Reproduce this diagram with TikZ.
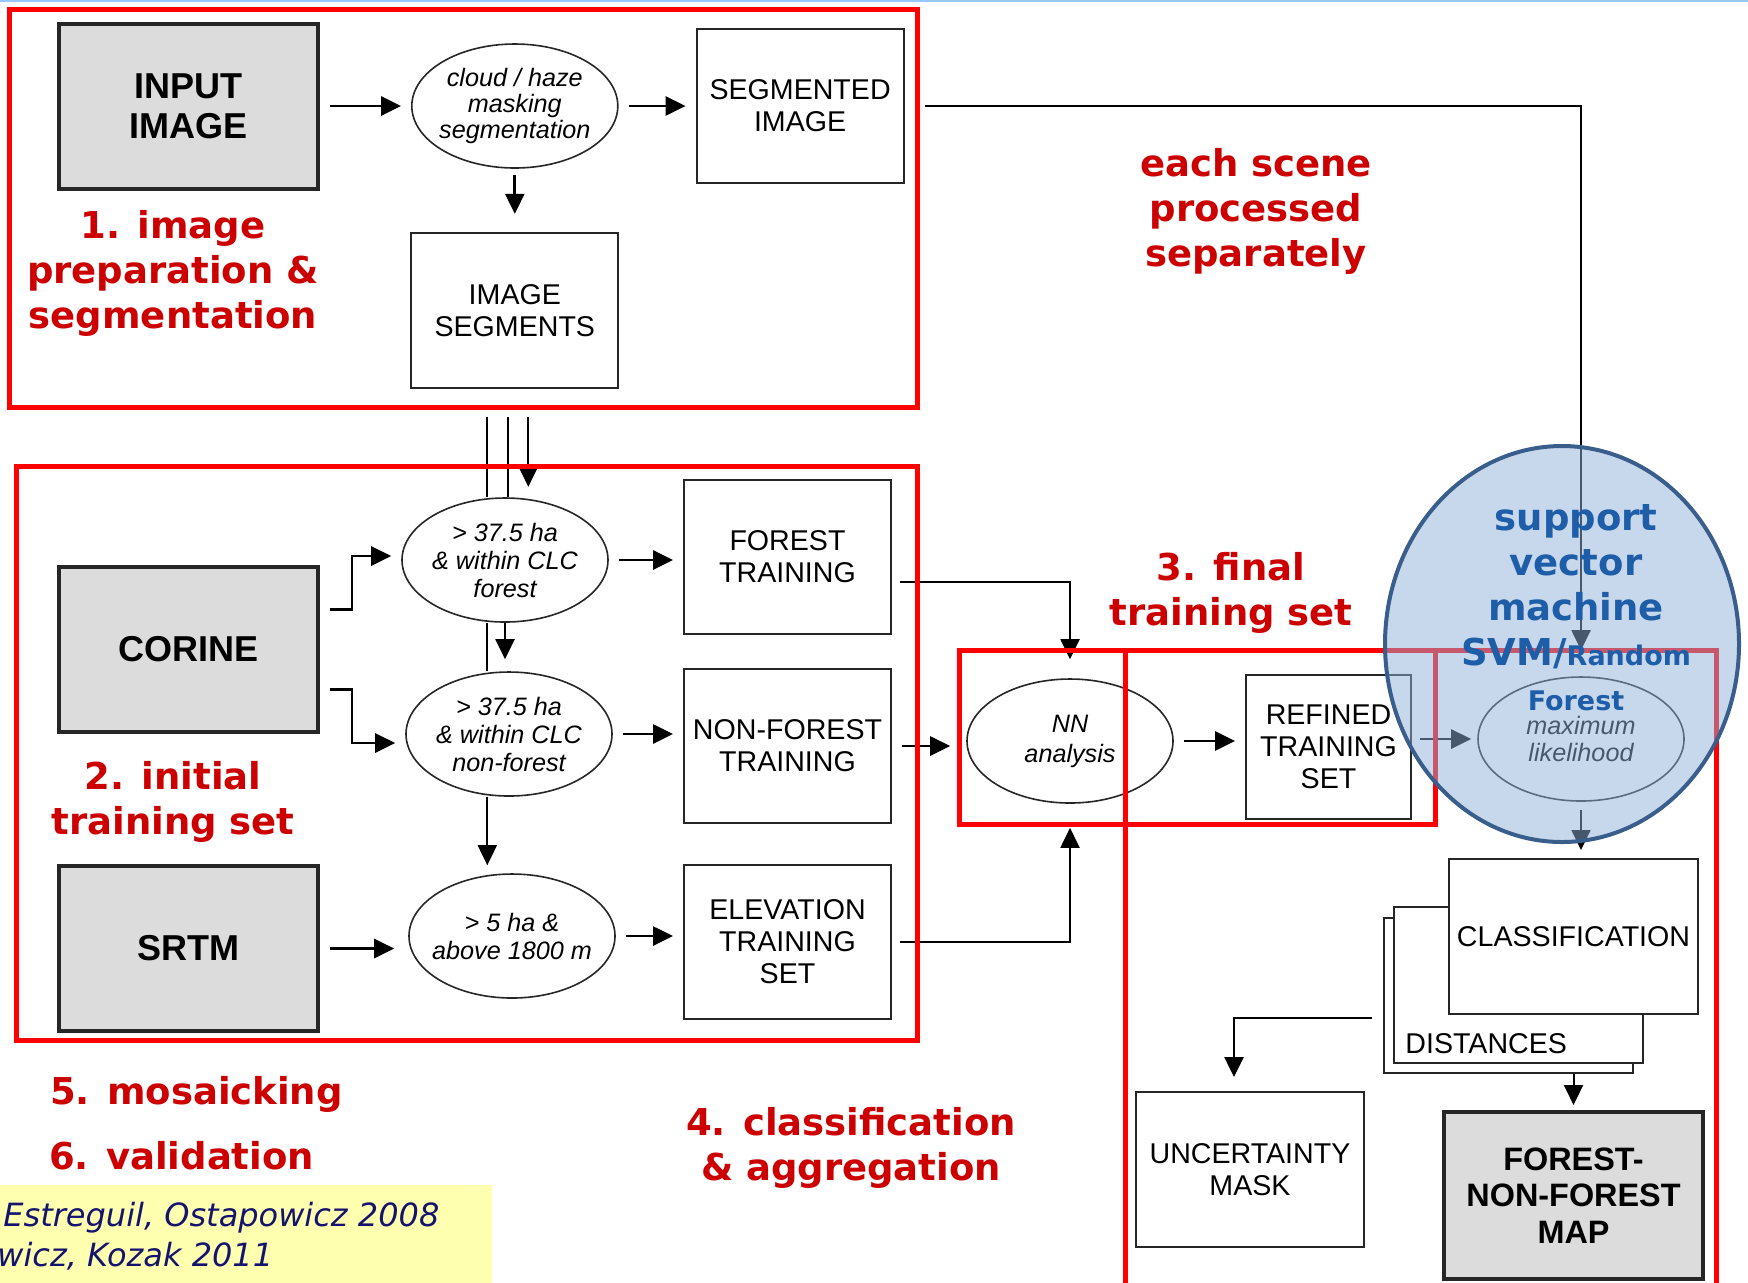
\documentclass[tikz,border=0pt]{standalone}
\usepackage{fontspec}
\setmainfont{Liberation Sans}
\newfontfamily\stagefont{DejaVu Sans}
\usetikzlibrary{arrows.meta,positioning,shapes.geometric,calc}

\definecolor{stagered}{RGB}{204,0,0}
\definecolor{framered}{RGB}{255,0,0}
\definecolor{boxgray}{RGB}{220,220,220}
\definecolor{svmfill}{RGB}{145,177,217}
\definecolor{svmline}{RGB}{58,94,140}
\definecolor{svmtext}{RGB}{30,94,168}
\definecolor{citeyellow}{RGB}{255,255,176}
\definecolor{citeblue}{RGB}{20,20,110}
\definecolor{topline}{RGB}{150,200,255}

\begin{document}
\begin{tikzpicture}[
  x=0.5pt,y=-0.5pt,
  font=\fontsize{14.3}{16}\selectfont,
  box/.style={draw=black!85,line width=1pt,align=center,minimum width=103.5pt,
              minimum height=77pt,inner sep=0pt},
  bigbox/.style={box,fill=boxgray,line width=2pt,minimum width=129.5pt,
              minimum height=82.5pt,font=\fontsize{18}{20}\selectfont\bfseries},
  oval/.style={draw=black!85,ellipse,line width=0.8pt,minimum width=103pt,
              minimum height=62pt,inner sep=-30pt,align=center,
              font=\fontsize{12.6}{14}\selectfont\itshape},
  redframe/.style={draw=framered,line width=2.5pt},
  stage/.style={align=center,text=stagered,
              font=\stagefont\bfseries\fontsize{18.5}{22.5}\selectfont},
  cite/.style={inner sep=0pt,text=citeblue,
              font=\stagefont\itshape\fontsize{16}{19}\selectfont},
  arrow/.style={-{Triangle[length=10pt,width=9.5pt]},line width=1.4pt,
              shorten <=5pt,shorten >=5pt},
  conn/.style={line width=1pt},
  longarrow/.style={-{Triangle[length=10pt,width=9.5pt]},conn}
]
\useasboundingbox (0,0) rectangle (1748,1282);
\fill[citeyellow] (0,1185) rectangle (492,1290);
\draw[topline,line width=1pt] (0,1) -- (1748,1);

% 1. image preparation
\node[bigbox] (input) at (188.5,106) {INPUT\\IMAGE};
\node[oval,right=45.5pt of input,font=\fontsize{12.6}{12.8}\selectfont\itshape] (mask)
  {cloud / haze\\masking\\segmentation};
\node[box,right=38.5pt of mask] (segimg) {SEGMENTED\\IMAGE};
\node[box,below=31.5pt of mask,minimum height=77.5pt] (imgseg) {IMAGE\\SEGMENTS};
\draw[arrow] (input) -- (mask);
\draw[arrow] (mask) -- (segimg);
\draw[arrow,shorten <=3pt,shorten >=9pt] (mask) -- (imgseg);

% 2. initial training set
\node[bigbox] (corine) at (188.5,649.5) {CORINE};
\node[bigbox,below=65pt of corine] (srtm) {SRTM};
\node[oval] (clcfor) at (505,560) {> 37.5 ha\\\& within CLC\\forest};
\node[oval] (clcnon) at (509,734) {> 37.5 ha\\\& within CLC\\non-forest};
\node[oval] (elev) at (512,936) {> 5 ha \&\\above 1800 m};
\node[box] (fortrain) at (787.5,557) {FOREST\\TRAINING};
\node[box,below=16.5pt of fortrain] (nontrain) {NON-FOREST\\TRAINING};
\node[box,below=20pt of nontrain] (elevtrain) {ELEVATION\\TRAINING\\SET};

\coordinate (tapA) at ([xshift=-13.75pt,yshift=-14pt]imgseg.south);
\coordinate (tapB) at ([xshift=-3.25pt,yshift=-14pt]imgseg.south);
\coordinate (tapC) at ([xshift=6.75pt,yshift=-14pt]imgseg.south);
\draw[conn] (tapA) -- (tapA |- clcfor.north);
\draw[conn] (tapB) -- (tapB |- clcfor.north);
\draw[longarrow] (tapC) -- ++(0,70);
\draw[conn] (tapA |- clcfor.south) -- (tapA |- clcnon.north);
\draw[longarrow,shorten >=4pt] (tapA |- clcnon.south) -- (tapA |- elev.north);
\draw[longarrow,shorten >=6pt] (clcfor.south) -- (clcfor.south |- clcnon.north);

\draw[arrow,shorten <=0pt] ([xshift=5pt,yshift=20pt]corine.east) -- ++(11pt,0)
  |- ([yshift=2pt]clcfor.west);
\draw[arrow,shorten <=0pt] ([xshift=5pt,yshift=-20pt]corine.east) -- ++(11pt,0)
  |- ([yshift=-4.5pt]clcnon.west);
\draw[arrow,shorten >=7pt] (srtm.east) -- (srtm.east -| elev.west);
\draw[arrow] (clcfor.east) -- (clcfor.east -| fortrain.west);
\draw[arrow] (clcnon.east) -- (clcnon.east -| nontrain.west);
\draw[arrow] (elev.east) -- (elev.east -| elevtrain.west);

% 3. final training set
\node[oval,font=\fontsize{12.6}{15}\selectfont\itshape] (nn) at (1070,741) {NN\\analysis};
\node[box,minimum width=82.5pt,minimum height=72pt] (refined) at (1328.5,747)
  {REFINED\\TRAINING\\SET};
\node[oval,font=\fontsize{12.6}{13.5}\selectfont\itshape] (ml) at (1581,739)
  {maximum\\likelihood};
\draw[arrow,shorten >=8pt] (nontrain.east) -- (nontrain.east -| nn.west);
\draw[arrow] (nn.east) -- (nn.east -| refined.west);
\draw[arrow,shorten <=4pt,shorten >=3pt] (refined.east |- ml.west) -- (ml.west);
\draw[longarrow,shorten >=9.5pt] ([xshift=4pt,yshift=-12.5pt]fortrain.east) -| (nn.north);
\draw[longarrow,shorten >=12pt] ([xshift=4pt]elevtrain.east) -| (nn.south);
\draw[longarrow,shorten >=13pt] ([xshift=10pt]segimg.east) -| (ml.north);

% 4. classification
\node[box,minimum width=124.5pt,minimum height=77.5pt] (stackback) at (1508.5,995.5) {};
\node[box,minimum width=124.5pt,minimum height=78pt,fill=white] (dist) at (1518.5,985) {};
\node[anchor=base west,inner sep=0pt] (distlbl) at ([xshift=6pt,yshift=5.5pt]dist.south west)
  {DISTANCES};
\node[box,minimum width=124.5pt,minimum height=77.5pt,fill=white] (classif)
  at (1573.5,936.5) {CLASSIFICATION};
\node[box,minimum width=114pt,minimum height=77.5pt] (uncert) at (1250,1169.5)
  {UNCERTAINTY\\MASK};
\node[bigbox,minimum height=83.5pt,font=\fontsize{16.2}{18.25}\selectfont\bfseries]
  (fnfmap) at (1573.5,1195.5) {FOREST-\\NON-FOREST\\MAP};
\draw[longarrow,shorten <=4pt,shorten >=4pt] (ml.south) -- (ml.south |- classif.north);
\draw[longarrow,shorten >=2.5pt] (stackback.south -| fnfmap.north) -- (fnfmap.north);
\draw[longarrow,line width=1.3pt,shorten >=7pt] ([xshift=-5.5pt,yshift=-11.25pt]stackback.west)
  -| ([xshift=-8pt]uncert.north);

% red frames
\draw[redframe] (9,9) rectangle (917,407);
\draw[redframe] (16,466) rectangle (917,1040);
\draw[redframe] (959,650) rectangle (1435,824);
\draw[redframe] (1125,1295) |- (1716,650) -- (1716,1295);

% svm overlay
\node[ellipse,draw=svmline,line width=2pt,fill=svmfill,fill opacity=0.5,
  minimum width=177pt,minimum height=198pt] (svm) at (1562,644) {};
\node[stage,text=svmtext] (svmlbl) at (1576,608)
  {support\\vector\\machine\\SVM/{\fontsize{13.5}{22.5}\selectfont Random}\\
   {\fontsize{13.5}{22.5}\selectfont Forest}};

% stage labels
\node[stage] (stage1) at (173,273) {1. image\\preparation \&\\segmentation};
\node[stage] (stage2) at (173,802) {2. initial\\training set};
\node[stage] (scene) at (1256,211) {each scene\\processed\\separately};
\node[stage] (stage3) at (1231,593) {3. final\\training set};
\node[stage] (stage4) at (851,1148) {4. classification\\\& aggregation};
\node[stage,anchor=west] (stage5) at (43,1094) {5. mosaicking};
\node[stage,anchor=west] (stage6) at (42,1156) {6. validation};

\node[cite,anchor=west] (cite1) at (3,1218) {Estreguil, Ostapowicz 2008};
\node[cite,anchor=west] (cite2) at (-3,1256) {wicz, Kozak 2011};
\end{tikzpicture}
\end{document}
